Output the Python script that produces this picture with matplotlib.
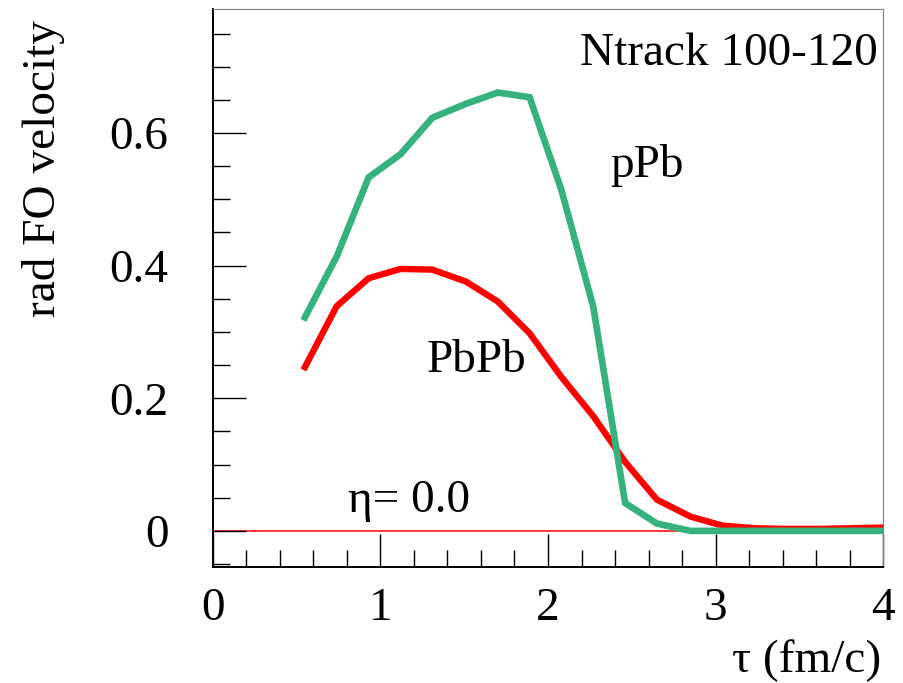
import matplotlib
matplotlib.use('Agg')
import matplotlib.pyplot as plt
from matplotlib.ticker import MultipleLocator

# tau (fm/c) values and radial freeze-out velocity for the two systems
tau = [0.55, 0.74, 0.93, 1.12, 1.31, 1.51, 1.70, 1.89, 2.08, 2.27,
       2.46, 2.65, 2.85, 3.04, 3.23, 3.42, 3.62, 3.81, 4.00]
ppb = [0.322, 0.414, 0.533, 0.568, 0.623, 0.644, 0.661, 0.654, 0.514, 0.338,
       0.042, 0.011, 0.0, 0.0, 0.0, 0.0, 0.0, 0.0, 0.0]
pbpb = [0.247, 0.339, 0.381, 0.395, 0.394, 0.376, 0.346, 0.298, 0.232, 0.173,
        0.104, 0.047, 0.0215, 0.008, 0.004, 0.003, 0.003, 0.004, 0.005]

x_ticks = [0, 1, 2, 3, 4]
y_ticks = [0, 0.2, 0.4, 0.6]
y_tick_labels = ['0', '0.2', '0.4', '0.6']


def main():
    plt.rcParams['font.family'] = ['Liberation Serif', 'DejaVu Serif']
    plt.rcParams['font.size'] = 34

    fig = plt.figure(figsize=(9.04, 6.83), dpi=100)
    ax = fig.add_axes([0.2353, 0.1703, 0.9771 - 0.2353, 0.9868 - 0.1703])

    ax.axhline(0, color='#ff0000', lw=1.1, zorder=1)
    ax.plot(tau, pbpb, color='#ff0000', lw=4.6, solid_joinstyle='miter', zorder=3)
    ax.plot(tau, ppb, color='#35b27e', lw=4.8, solid_joinstyle='miter', zorder=4)

    ax.set_xlim(0, 4)
    ax.set_ylim(-0.054, 0.787)

    ax.set_xticks(x_ticks)
    ax.set_xticklabels([str(t) for t in x_ticks])
    ax.set_yticks(y_ticks)
    ax.set_yticklabels(y_tick_labels)
    ax.xaxis.set_minor_locator(MultipleLocator(0.2))
    ax.yaxis.set_minor_locator(MultipleLocator(0.05))

    ax.tick_params(axis='x', which='major', direction='in', length=24, width=1, pad=15)
    ax.tick_params(axis='x', which='minor', direction='in', length=12, width=1)
    ax.tick_params(axis='y', which='major', direction='in', length=24, width=1, pad=32)
    ax.tick_params(axis='y', which='minor', direction='in', length=12, width=1)

    ax.spines['left'].set_color('black')
    ax.spines['bottom'].set_color('black')
    ax.spines['left'].set_linewidth(1.4)
    ax.spines['bottom'].set_linewidth(1.4)
    ax.spines['top'].set_color('#808080')
    ax.spines['right'].set_color('#808080')

    ax.text(3.968, 0.7026, 'Ntrack 100-120', ha='right', va='baseline')
    ax.text(2.37, 0.5337, 'pPb', ha='left', va='baseline')
    ax.text(1.276, 0.240, 'PbPb', ha='left', va='baseline')
    ax.text(0.807, 0.029, 'η= 0.0', ha='left', va='baseline')

    fig.text(881.7 / 904, 1 - 671.7 / 683, 'τ (fm/c)', ha='right', va='baseline')
    fig.text(44 / 904, 1 - 20 / 683, 'rad FO velocity', rotation=90,
             ha='center', va='top')

    fig.savefig('out.png', dpi=100)


if __name__ == "__main__":
    main()
